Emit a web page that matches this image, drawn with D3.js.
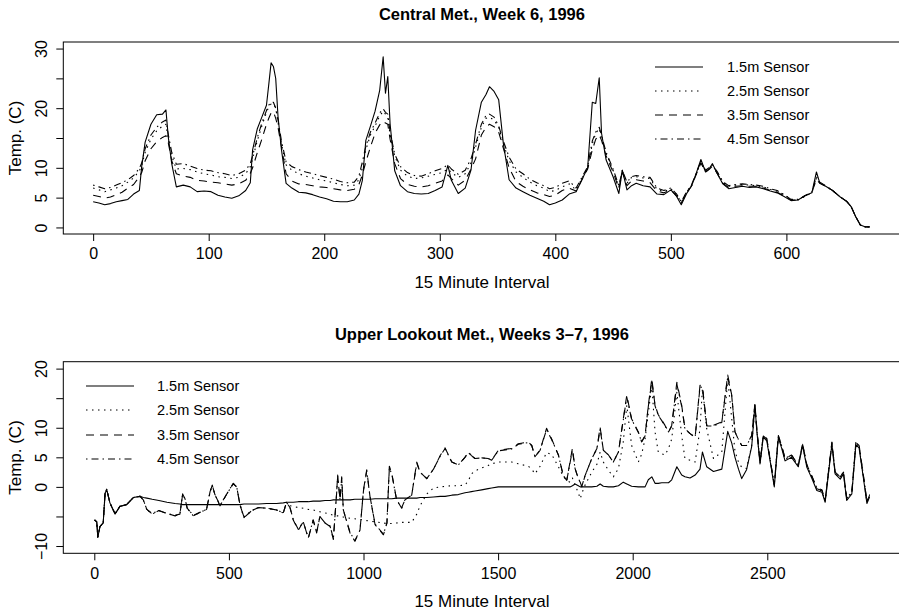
<!DOCTYPE html>
<html><head><meta charset="utf-8">
<script src="https://cdn.jsdelivr.net/npm/d3@7/dist/d3.min.js"></script>
<style>body{margin:0;background:#fff} text{font-family:"Liberation Sans",Arial,Helvetica,sans-serif;fill:#000}</style>
</head><body><svg id="c" width="899" height="610"></svg>
<script>
const seriesNames = ["1.5m Sensor","2.5m Sensor","3.5m Sensor","4.5m Sensor"];

// ---- Central Met., Week 6 (15-minute interval index) ----
const centralX = [0,5,10,15,20,25,30,35,40,42,
45,50,55,60,63,65,68,72,78,84,
90,96,102,108,114,120,126,132,136,138,
142,146,150,152,154,156,158,160,163,167,
172,178,184,190,196,202,208,214,220,226,
230,233,236,240,244,248,251,253,255,257,
261,266,272,278,284,290,296,302,307,310,
316,322,327,331,336,340,343,347,351,355,
360,366,372,378,384,390,395,400,406,412,
418,423,428,432,435,438,440,444,450,455,
458,462,466,470,476,482,488,494,500,505,
509,514,518,522,526,530,533,536,540,545,
550,556,562,568,574,580,586,592,598,604,
610,616,622,626,629,634,640,646,652,656,
660,664,668,672];
const central15 = [4.3,4.1,3.8,4.0,4.3,4.5,4.7,5.6,6.2,10.2,
14.3,17.3,18.9,19.0,19.7,15.2,10.7,6.8,7.1,6.8,
6.0,6.1,6.0,5.4,5.1,4.9,5.3,6.2,7.5,13.0,
16.5,18.5,20.5,24.0,27.6,27.0,25.0,18.6,13.0,7.4,
6.6,5.9,5.8,5.5,5.1,4.8,4.4,4.3,4.3,4.6,
5.6,7.9,14.6,17.0,19.5,23.0,28.6,22.5,25.3,17.4,
9.5,7.0,6.0,5.7,5.6,5.7,6.2,6.8,10.4,7.9,
5.7,6.6,9.6,16.3,21.0,22.3,23.6,22.8,21.4,14.1,
8.0,6.6,6.0,5.4,4.9,4.4,3.8,4.1,4.6,5.6,
6.0,8.0,10.0,21.0,20.8,25.1,15.8,11.3,8.5,5.7,
9.6,6.3,7.0,7.4,7.0,6.8,5.6,5.5,6.3,5.2,
3.8,5.8,7.0,9.1,11.4,9.3,9.8,10.7,9.1,7.3,
6.5,6.7,6.9,6.7,6.8,6.5,6.1,5.8,5.2,4.5,
4.6,5.3,5.8,9.3,7.4,6.9,6.2,5.2,4.4,3.5,
1.8,0.4,0.1,0.1];
const central25 = [6.6,6.3,6.0,6.3,6.6,7.0,7.6,8.3,9.5,10.4,
12.6,14.8,16.2,17.0,17.3,14.8,12.0,9.8,9.9,9.7,
9.3,9.0,8.8,8.5,8.4,8.2,8.4,9.0,10.2,11.5,
14.5,17.0,19.3,20.2,20.7,20.8,20.0,17.6,14.0,10.5,
9.6,9.0,8.6,8.3,8.0,7.8,7.5,7.2,7.0,7.1,
8.0,10.0,13.0,15.5,17.0,18.7,19.5,19.0,18.5,15.5,
12.0,9.6,8.6,8.2,8.3,8.6,8.9,9.2,9.8,9.2,
8.4,9.0,10.8,13.5,16.8,18.3,18.5,18.0,16.8,14.0,
11.2,9.3,8.4,7.6,7.0,6.6,6.0,6.2,6.8,7.3,
6.3,8.2,10.0,14.0,15.8,16.6,15.0,12.4,9.6,6.8,
9.5,7.4,8.4,8.5,8.3,8.2,6.4,6.0,6.5,5.5,
4.2,6.0,7.1,9.0,11.0,9.5,9.9,10.4,9.3,7.6,
6.9,7.1,7.2,7.1,7.0,6.8,6.4,6.1,5.5,4.7,
4.6,5.2,5.8,8.3,7.5,6.9,6.2,5.2,4.4,3.5,
1.8,0.4,0.1,0.1];
const central35 = [5.4,5.2,4.9,5.1,5.5,5.9,6.6,7.2,8.5,9.2,
11.2,13.2,14.4,15.1,15.4,14.2,11.2,9.0,8.6,8.4,
7.9,7.8,7.6,7.5,7.3,7.1,7.3,7.9,9.1,10.0,
12.5,14.8,17.3,18.3,19.2,19.4,18.3,16.8,13.5,9.0,
7.8,7.3,7.2,7.0,6.8,6.7,6.5,6.3,6.2,6.4,
7.2,8.8,11.0,13.5,15.8,17.2,17.8,17.5,17.3,14.8,
10.7,8.2,7.2,6.9,6.8,7.0,7.4,7.8,8.8,8.2,
7.1,7.9,9.8,11.5,15.5,16.8,17.3,16.9,16.0,13.3,
10.0,7.7,6.9,6.3,5.8,5.5,5.2,5.4,6.2,6.6,
6.1,8.0,9.8,13.0,14.8,15.5,14.6,12.0,9.3,6.5,
9.3,7.0,7.8,8.0,7.8,7.5,6.1,5.8,6.3,5.3,
4.1,5.9,7.0,8.9,10.8,9.3,9.7,10.3,9.1,7.4,
6.7,6.9,7.0,6.9,6.9,6.6,6.2,5.9,5.3,4.6,
4.6,5.3,5.9,8.0,7.4,6.9,6.2,5.2,4.4,3.5,
1.8,0.4,0.1,0.1];
const central45 = [7.1,6.8,6.5,6.7,7.1,7.5,8.0,8.7,9.9,10.8,
13.2,15.5,16.8,17.7,18.0,15.6,12.6,10.6,10.7,10.3,
9.9,9.6,9.5,9.2,9.0,8.7,9.0,9.6,10.7,12.0,
15.0,17.5,19.6,20.5,21.0,21.0,20.0,18.0,14.5,11.0,
10.2,9.7,9.3,9.0,8.7,8.4,8.1,7.7,7.5,7.6,
8.6,11.0,13.6,16.0,17.5,19.2,19.9,19.3,19.0,16.0,
12.3,10.2,9.2,8.7,8.6,9.0,9.5,9.9,10.5,9.8,
8.9,9.6,11.5,14.0,17.3,18.8,19.0,18.5,17.0,14.5,
11.8,9.8,9.0,8.1,7.5,7.0,6.5,6.7,7.4,7.8,
6.6,8.4,10.2,14.5,16.0,16.8,15.4,12.6,9.8,7.0,
9.6,7.6,8.5,8.7,8.5,8.4,6.6,6.2,6.6,5.6,
4.3,6.1,7.2,9.1,11.1,9.6,10.0,10.5,9.4,7.7,
7.0,7.2,7.3,7.2,7.1,6.9,6.5,6.2,5.5,4.7,
4.7,5.3,5.9,8.5,7.6,7.0,6.2,5.2,4.4,3.5,
1.8,0.4,0.1,0.1];

// ---- Upper Lookout Met., Weeks 3-7 ----
const lookoutX = [1,9,13,21,33,40,46,58,77,95,
120,145,170,182,195,215,240,270,300,318,
328,337,345,368,393,417,430,438,448,467,
492,516,529,541,556,585,610,640,677,702,
714,727,739,758,776,795,813,826,838,857,
876,888,900,904,913,919,925,950,968,987,
1000,1012,1024,1043,1074,1087,1096,1105,1123,1142,
1154,1179,1198,1210,1235,1260,1285,1303,1328,1352,
1377,1389,1401,1414,1439,1463,1476,1501,1550,1575,
1612,1625,1637,1656,1680,1699,1724,1742,1755,1767,
1776,1786,1798,1805,1811,1823,1848,1867,1879,1891,
1910,1928,1947,1965,1978,1996,2021,2033,2046,2058,
2071,2083,2095,2108,2120,2133,2145,2164,2182,2194,
2213,2232,2250,2259,2275,2300,2331,2353,2368,2380,
2393,2405,2423,2442,2454,2461,2473,2485,2498,2510,
2526,2541,2553,2566,2590,2615,2631,2647,2665,2684,
2703,2715,2730,2740,2752,2771,2783,2795,2814,2829,
2841,2857,2870,2880];
const lookout15 = [-5.6,-5.9,-8.5,-6.7,-6.1,-1.1,-0.4,-2.7,-4.6,-3.3,
-3.0,-1.8,-1.6,-1.8,-1.9,-2.1,-2.3,-2.6,-2.8,-2.9,
-3.0,-3.0,-3.0,-3.0,-3.0,-3.0,-3.0,-3.0,-3.0,-3.0,
-3.0,-3.0,-3.0,-3.0,-2.9,-2.9,-2.9,-2.8,-2.8,-2.7,
-2.6,-2.6,-2.6,-2.5,-2.5,-2.5,-2.4,-2.4,-2.4,-2.3,
-2.3,-2.2,-2.2,-2.2,-2.2,-2.2,-2.2,-2.2,-2.1,-2.1,
-2.1,-2.1,-2.1,-2.0,-2.0,-2.0,-2.0,-2.0,-1.9,-1.9,
-1.9,-1.9,-1.9,-1.8,-1.8,-1.7,-1.6,-1.6,-1.4,-1.3,
-1.0,-0.9,-0.8,-0.7,-0.5,-0.3,-0.2,0.0,0.0,0.0,
0.0,0.0,0.0,0.0,0.0,0.0,0.0,0.0,0.0,0.0,
0.2,0.5,0.2,0.0,0.0,0.0,0.0,0.1,0.5,0.1,
0.0,0.0,0.2,0.8,0.5,0.1,0.0,0.0,0.0,1.2,
1.7,0.6,0.6,0.7,0.7,0.7,1.2,3.4,2.0,1.7,
1.5,2.0,3.0,5.9,3.4,2.6,3.0,9.4,7.4,5.0,
3.0,1.4,2.9,6.8,13.8,9.5,3.9,8.4,7.8,4.5,
0.0,8.3,6.6,4.4,5.0,3.4,7.0,3.3,1.5,-0.6,
-0.9,-2.6,3.3,7.2,2.2,1.3,2.2,-2.3,-1.2,7.1,
6.6,1.5,-2.8,-1.7];
const lookout25 = [-5.6,-5.9,-8.5,-6.7,-6.1,-1.1,-0.4,-2.7,-4.6,-3.3,
-3.0,-1.8,-1.6,-2.2,-3.8,-4.6,-4.0,-4.5,-4.9,-4.6,
-1.2,-2.0,-3.6,-4.9,-4.3,-3.8,-0.8,0.3,-1.3,-3.2,
-1.2,0.6,0.0,-3.0,-5.2,-4.0,-3.5,-3.6,-3.9,-4.4,
-2.6,-3.2,-3.3,-3.5,-3.6,-3.8,-3.9,-4.1,-4.2,-4.4,
-4.6,-4.8,-4.9,-4.9,-5.0,-5.1,-5.1,-5.3,-5.4,-5.5,
-5.6,-5.7,-5.8,-5.9,-6.1,-6.2,-6.2,-6.2,-6.1,-6.0,
-6.0,-6.0,-4.6,-3.2,-1.2,-0.2,0.0,0.1,0.2,0.2,
0.3,1.0,2.2,2.7,3.2,3.6,3.9,4.2,4.2,3.9,
3.5,3.0,2.2,3.5,5.8,5.5,3.4,1.8,1.1,0.8,
1.5,0.3,-1.0,-2.0,-1.1,0.3,2.5,3.8,5.9,4.2,
2.8,1.7,3.1,7.6,13.8,7.0,4.2,5.5,8.1,12.5,
17.2,9.3,5.9,5.6,5.4,6.5,8.1,16.0,8.7,4.8,
4.5,4.2,9.8,16.6,9.8,4.8,5.9,18.3,11.5,6.0,
4.2,3.3,3.1,7.0,13.5,9.6,4.0,8.4,7.9,4.6,
0.2,8.4,6.8,4.6,5.2,3.5,7.1,3.5,1.7,-0.4,
-0.7,-2.4,3.5,7.3,2.3,1.5,2.3,-2.1,-1.0,7.3,
6.8,1.7,-2.6,-1.5];
const lookout35 = [-5.6,-5.9,-8.5,-6.7,-6.1,-1.1,-0.4,-2.7,-4.6,-3.3,
-3.0,-1.8,-1.6,-2.2,-3.8,-4.6,-4.0,-4.5,-4.9,-4.6,
-1.2,-2.0,-3.6,-4.9,-4.3,-3.8,-0.8,0.3,-1.3,-3.2,
-1.2,0.6,0.0,-3.0,-5.2,-4.0,-3.5,-3.6,-3.9,-4.4,
-2.6,-3.5,-5.6,-7.3,-5.9,-8.7,-5.6,-7.8,-5.0,-6.1,
-6.7,-8.9,-1.1,2.0,-2.2,1.7,-3.9,-7.8,-9.2,-7.3,
-0.5,2.9,-1.6,-6.4,-8.1,-6.1,3.5,2.3,-2.2,-3.6,
-2.2,-1.4,4.2,2.5,1.4,3.0,5.3,6.6,4.2,3.7,
5.0,5.9,5.3,4.8,4.9,4.8,4.5,6.2,6.5,7.3,
7.6,7.0,5.1,6.2,9.9,8.1,5.4,1.9,1.1,4.2,
6.5,3.1,1.4,0.8,0.0,1.9,4.8,6.5,10.1,6.2,
5.4,4.2,5.9,11.5,15.5,11.5,9.3,7.6,8.7,13.8,
18.3,13.8,12.2,11.3,10.4,9.3,10.4,17.7,13.8,9.9,
9.0,8.4,17.2,17.0,10.4,10.4,11.0,18.9,15.5,9.3,
8.0,7.0,7.0,8.7,14.1,9.9,4.2,8.7,8.2,4.8,
0.3,8.7,7.0,4.8,5.4,3.7,7.3,3.7,1.9,-0.3,
-0.6,-2.3,3.7,7.6,2.5,1.7,2.5,-2.0,-0.9,7.6,
7.0,1.9,-2.5,-1.4];
const lookout45 = [-5.6,-5.9,-8.4,-6.7,-6.0,-1.0,-0.4,-2.7,-4.5,-3.3,
-3.0,-1.8,-1.6,-2.2,-3.8,-4.5,-4.0,-4.5,-4.8,-4.6,
-1.3,-2.0,-3.6,-4.8,-4.3,-3.8,-0.9,0.3,-1.3,-3.1,
-1.2,0.5,0.0,-3.0,-5.1,-4.0,-3.5,-3.6,-3.9,-4.4,
-2.6,-3.5,-5.5,-7.2,-5.9,-8.6,-5.6,-7.7,-5.0,-6.1,
-6.6,-8.8,-1.2,1.8,-2.2,1.5,-3.9,-7.7,-9.1,-7.3,
-0.6,2.7,-1.6,-6.3,-8.0,-6.1,3.2,2.2,-2.2,-3.5,
-2.2,-1.4,4.0,2.5,1.4,3.0,5.2,6.5,4.2,3.7,
5.0,5.8,5.3,4.8,4.9,4.8,4.5,6.1,6.4,7.2,
7.5,7.0,5.1,6.2,9.7,8.0,5.4,1.9,1.1,4.0,
6.2,3.1,1.4,0.8,0.1,1.9,4.8,6.4,9.8,6.2,
5.4,4.2,5.9,11.3,15.2,11.4,9.2,7.6,8.6,13.6,
17.9,13.7,12.1,11.2,10.3,9.3,10.3,17.4,13.6,9.8,
9.0,8.4,16.9,16.8,10.3,10.3,10.9,18.6,15.3,9.3,
8.0,7.0,7.0,8.6,13.9,9.8,4.2,8.6,8.1,4.8,
0.4,8.6,7.0,4.8,5.4,3.7,7.2,3.7,1.9,-0.2,
-0.5,-2.2,3.6,7.5,2.5,1.7,2.5,-1.9,-0.9,7.5,
7.0,1.9,-2.4,-1.3];

// ---- axis ticks / labels ----
const topXTicks = [0,100,200,300,400,500,600];
const topYTicks = [0,5,10,15,20,25,30];
const topYLabels = ["0","5","10","","20","","30"];
const botXTicks = [0,500,1000,1500,2000,2500];
const botYTicks = [-10,-5,0,5,10,15,20];
const botYLabels = ["\u221210","","0","5","10","","20"];
const xTitle = "15 Minute Interval";
const yTitle = "Temp. (C)";

const dashes = [null, "1.5,4.5", "8,6", "1.5,4,7,4"];
const svg = d3.select("#c");

function panel(cfg){
  const g = svg.append("g");
  const x = d3.scaleLinear().domain(cfg.xDomain).range([cfg.left, cfg.right]);
  const y = d3.scaleLinear().domain(cfg.yDomain).range([cfg.bottom, cfg.top]);
  const clipId = "clip" + cfg.id;
  svg.append("clipPath").attr("id", clipId).append("rect")
    .attr("x", cfg.left).attr("y", cfg.top)
    .attr("width", cfg.right - cfg.left).attr("height", cfg.bottom - cfg.top);

  // series
  const line = d3.line().x(d => x(d[0])).y(d => y(d[1]));
  cfg.series.forEach((vals, i) => {
    const pts = cfg.xs.map((xv, k) => [xv, vals[k]]);
    g.append("path").datum(pts).attr("d", line)
      .attr("clip-path", `url(#${clipId})`)
      .attr("fill", "none").attr("stroke", "#000").attr("stroke-width", 1.1)
      .attr("stroke-linejoin", "round")
      .attr("stroke-dasharray", dashes[i]);
  });

  // box
  g.append("rect").attr("x", cfg.left).attr("y", cfg.top)
    .attr("width", cfg.right - cfg.left).attr("height", cfg.bottom - cfg.top)
    .attr("fill", "none").attr("stroke", "#000").attr("stroke-width", 1);

  // x axis
  const xa = g.append("g").attr("transform", `translate(0,${cfg.bottom})`)
    .call(d3.axisBottom(x).tickValues(cfg.xTicks).tickFormat(d3.format("d")).tickSize(7).tickPadding(7));
  xa.select(".domain").remove();
  xa.selectAll("line").attr("stroke", "#000");
  xa.selectAll("text").attr("font-size", 16).attr("font-family", null);

  // y axis
  const ya = g.append("g").attr("transform", `translate(${cfg.left},0)`)
    .call(d3.axisLeft(y).tickValues(cfg.yTicks).tickFormat((d, i) => cfg.yLabels[i]).tickSize(7));
  ya.select(".domain").remove();
  ya.selectAll("line").attr("stroke", "#000");
  ya.selectAll("text").attr("font-size", 16).attr("font-family", null)
    .attr("x", 0).attr("dy", 0).attr("text-anchor", "middle")
    .attr("transform", "translate(-16.5,0) rotate(-90)");

  // titles
  g.append("text").attr("x", (cfg.left + cfg.right) / 2).attr("y", cfg.titleY)
    .attr("text-anchor", "middle").attr("font-weight", "bold").attr("font-size", 16.5)
    .text(cfg.title);
  g.append("text").attr("x", (cfg.left + cfg.right) / 2).attr("y", cfg.xTitleY)
    .attr("text-anchor", "middle").attr("font-size", 17).text(xTitle);
  g.append("text").attr("transform", `translate(20.5,${(cfg.top + cfg.bottom) / 2}) rotate(-90)`)
    .attr("text-anchor", "middle").attr("font-size", 17).text(yTitle);

  // legend
  seriesNames.forEach((name, i) => {
    const ly = cfg.legY[i];
    g.append("line").attr("x1", cfg.legX0).attr("x2", cfg.legX1).attr("y1", ly).attr("y2", ly)
      .attr("stroke", "#000").attr("stroke-width", 1.1).attr("stroke-dasharray", dashes[i]);
    g.append("text").attr("x", cfg.legTX).attr("y", ly).attr("dy", "0.36em")
      .attr("font-size", 14.5).text(name);
  });
}

panel({id: 1, title: "Central Met., Week 6, 1996", titleY: 19.5, xTitleY: 287.5,
  left: 63.3, right: 900.6, top: 42, bottom: 234,
  xDomain: [-25.84, 698.84], yDomain: [-1.1, 31.1],
  xTicks: topXTicks, yTicks: topYTicks, yLabels: topYLabels,
  xs: centralX, series: [central15, central25, central35, central45],
  legX0: 655, legX1: 703, legTX: 727, legY: [67, 91, 115, 139]});

panel({id: 2, title: "Upper Lookout Met., Weeks 3\u20137, 1996", titleY: 339.5, xTitleY: 606.5,
  left: 63.3, right: 900.6, top: 361.7, bottom: 553.3,
  xDomain: [-115.2, 2995.2], yDomain: [-11.23, 21.17],
  xTicks: botXTicks, yTicks: botYTicks, yLabels: botYLabels,
  xs: lookoutX, series: [lookout15, lookout25, lookout35, lookout45],
  legX0: 86, legX1: 134, legTX: 157, legY: [386, 410, 435, 459]});
</script></body></html>
